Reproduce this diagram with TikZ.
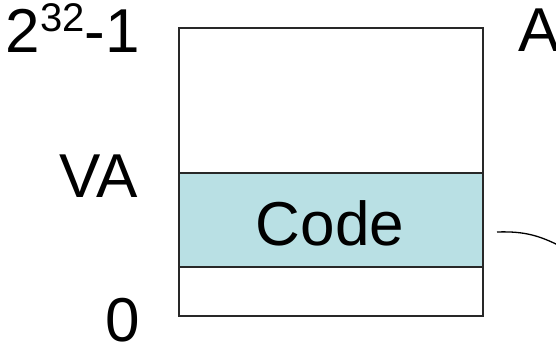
\documentclass[tikz,border=0pt]{standalone}
\usepackage{fontspec}
\setmainfont{Liberation Sans}
\definecolor{codefill}{RGB}{185,224,228}
\definecolor{edge}{RGB}{40,40,40}
\begin{document}
\begin{tikzpicture}[x=1pt,y=1pt,
  lbl/.style={inner sep=0pt,font=\fontsize{62}{62}\selectfont},
  region/.style={draw=edge,line width=1.6pt}]
\useasboundingbox (0,0) rectangle (556,346);
% memory box
\node[region,minimum width=304pt,minimum height=288pt,inner sep=0pt,anchor=south west] (mem) at (178,29) {};
\node[region,fill=codefill,minimum width=304pt,minimum height=94.5pt,inner sep=0pt,anchor=south west] (code) at (178,78) {};
\node[lbl,anchor=base] (codetxt) at (330,101) {Code};
% left labels
\node[lbl,anchor=base east] (top) at (140,293) {2\raisebox{21pt}{\fontsize{40}{40}\selectfont 32}-1};
\node[lbl,anchor=base east] (va) at (138,149) {VA};
\node[lbl,anchor=base east] (zero) at (140,5) {0};
\node[lbl,anchor=base west] (a) at (518,294) {A};
% curve
\coordinate (c1) at (497,114);
\coordinate (c2) at (560,100);
\draw[line width=1.3pt] (c1) .. controls (525,115) and (540,110) .. (c2);
\end{tikzpicture}
\end{document}
